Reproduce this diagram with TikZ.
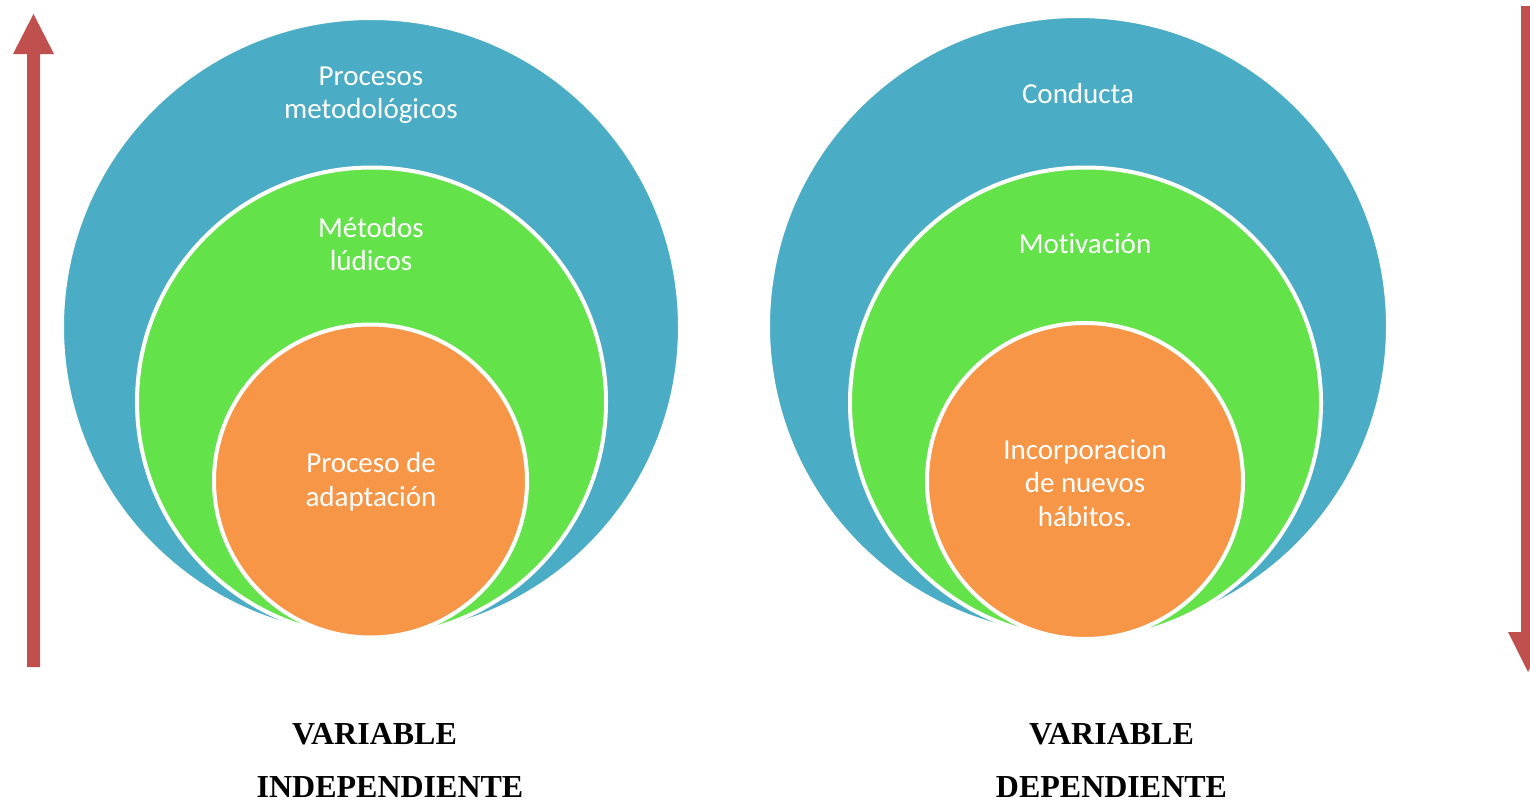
\documentclass[tikz,border=0pt]{standalone}
\usepackage{fontspec}
\setmainfont{Liberation Serif}
\newfontfamily\calfont[Ligatures=NoCommon]{Carlito}
\definecolor{cblue}{HTML}{4BACC6}
\definecolor{cgreen}{HTML}{63E24A}
\definecolor{corange}{HTML}{F79646}
\definecolor{cred}{HTML}{C0504D}
\begin{document}
\begin{tikzpicture}[x=1pt,y=-1pt,
  ring/.style={circle, draw=white, line width=4pt, inner sep=0pt},
  lab/.style={text=white, align=center, font=\calfont\fontsize{29}{33.5}\selectfont, inner sep=0pt},
  var/.style={align=center, font=\bfseries\fontsize{32}{53}\selectfont, inner sep=0pt}]
\useasboundingbox (0,0) rectangle (1530,803);
% arrows
\fill[cred] (27,667) -- (27,54) -- (13,54) -- (33.5,14) -- (54,54) -- (40,54) -- (40,667) -- cycle;
\fill[cred] (1521,6) -- (1521,632) -- (1508,632) -- (1528,672) -- (1548,632) -- (1534,632) -- (1534,6) -- cycle;
% left circles
\node[ring, fill=cblue, minimum size=618pt] (lb) at (371,327) {};
\node[ring, fill=cgreen, minimum size=469pt] (lg) at (371.5,402) {};
\node[ring, fill=corange, minimum size=313pt] (lo) at (370.5,481) {};
% right circles
\node[ring, fill=cblue, minimum size=620pt] (rb) at (1078,326) {};
\node[ring, fill=cgreen, minimum size=471pt] (rg) at (1085.5,403) {};
\node[ring, fill=corange, minimum size=316pt] (ro) at (1085,481) {};
% labels
\node[lab] (t1) at (371,95) {Procesos\\metodológicos};
\node[lab] (t2) at (371,244) {Métodos\\lúdicos};
\node[lab] (t3) at (371,482) {Proceso de\\adaptación};
\node[lab] (t4) at (1078,94) {Conducta};
\node[lab] (t5) at (1085,244) {Motivación};
\node[lab] (t6) at (1085,483) {Incorporacion\\de nuevos\\hábitos.};
\node[var] (v1) at (390,760) {\makebox[0pt]{\hspace{-31pt}VARIABLE}\\INDEPENDIENTE};
\node[var] (v2) at (1111.5,760) {VARIABLE\\DEPENDIENTE};
\end{tikzpicture}
\end{document}
